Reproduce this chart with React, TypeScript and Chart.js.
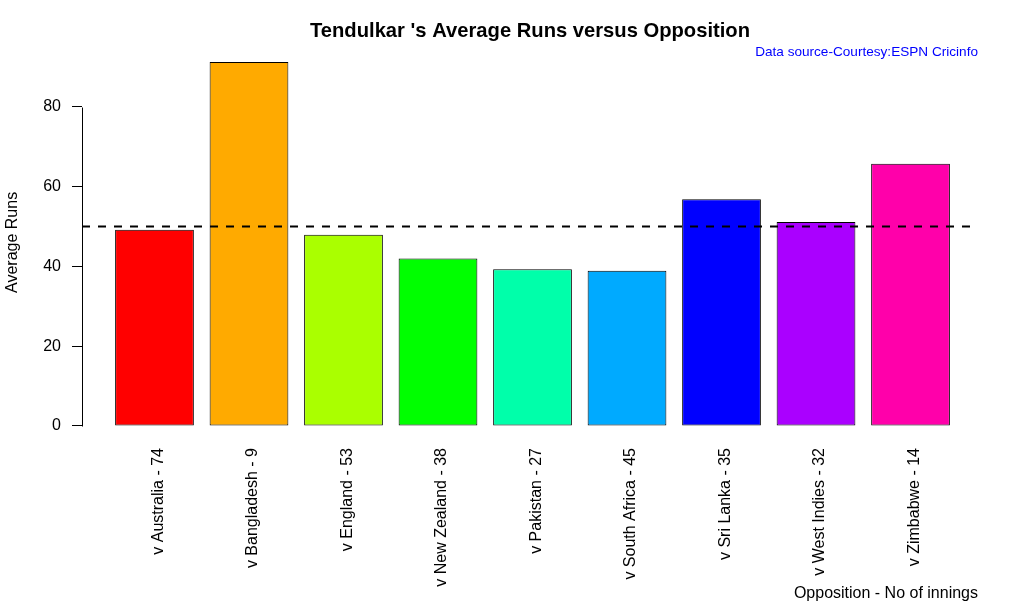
import React, { useEffect, useRef } from "react";
import { Chart, registerables } from "chart.js";

Chart.register(...registerables);

const categories = [
  "v Australia - 74",
  "v Bangladesh - 9",
  "v England - 53",
  "v New Zealand - 38",
  "v Pakistan - 27",
  "v South Africa - 45",
  "v Sri Lanka - 35",
  "v West Indies - 32",
  "v Zimbabwe - 14",
];
const averages = [49.2, 91.2, 47.9, 42.0, 39.3, 38.9, 56.8, 51.1, 65.7];
const barColors = [
  "#FF0000",
  "#FFAA00",
  "#AAFF00",
  "#00FF00",
  "#00FFAA",
  "#00AAFF",
  "#0000FF",
  "#AA00FF",
  "#FF00AA",
];
const yTicks = [0, 20, 40, 60, 80];
const referenceLine = 50;

const FONT = "'Liberation Sans', Arial, Helvetica, sans-serif";

const extrasPlugin = {
  id: "extras",
  afterDatasetsDraw(chart: any) {
    const { ctx, chartArea, scales } = chart;
    const y = scales.y;
    const py = Math.round(y.getPixelForValue(referenceLine)) + 0.5;
    ctx.save();
    ctx.strokeStyle = "#000";
    ctx.lineWidth = 2;
    ctx.setLineDash([8, 8]);
    ctx.beginPath();
    ctx.moveTo(chartArea.left, py);
    ctx.lineTo(chartArea.right, py);
    ctx.stroke();
    ctx.restore();
  },
  afterDraw(chart: any) {
    const { ctx, scales } = chart;
    const y = scales.y;
    const x = Math.round(y.right) + 0.5;
    ctx.save();
    ctx.strokeStyle = "#000";
    ctx.lineWidth = 1;
    ctx.beginPath();
    ctx.moveTo(x, Math.round(y.getPixelForValue(yTicks[0])) + 0.5);
    ctx.lineTo(x, Math.round(y.getPixelForValue(yTicks[yTicks.length - 1])) + 0.5);
    ctx.stroke();
    ctx.restore();
  },
};

export default function App() {
  const canvasRef = useRef<HTMLCanvasElement | null>(null);

  useEffect(() => {
    if (!canvasRef.current) return;
    Chart.defaults.color = "#000";
    Chart.defaults.font.family = FONT;
    const chart = new Chart(canvasRef.current, {
      type: "bar",
      data: {
        datasets: [
          {
            data: categories.map((_, i) => ({ x: i, y: averages[i] })),
            backgroundColor: barColors,
            borderColor: "#000",
            borderWidth: 1,
            borderSkipped: false,
            categoryPercentage: 1,
            barPercentage: 0.8333,
          },
        ],
      },
      options: {
        responsive: false,
        animation: false,
        layout: { padding: { left: 0, top: 0, bottom: 0, right: 46 } },
        plugins: {
          legend: { display: false },
          tooltip: { enabled: false },
          title: {
            display: true,
            text: "Tendulkar 's Average Runs versus Opposition",
            fullSize: false,
            color: "#000",
            font: { size: 20.2, weight: "bold", family: FONT, lineHeight: 1.2 },
            padding: { top: 19, bottom: 0 },
          },
          subtitle: {
            display: true,
            text: "Data source-Courtesy:ESPN Cricinfo",
            fullSize: false,
            align: "end",
            color: "#0000FF",
            font: { size: 13.6, family: FONT, lineHeight: 1.0 },
            padding: { top: 2, bottom: 0 },
          },
        },
        scales: {
          x: {
            type: "linear",
            offset: false,
            min: -0.767,
            max: 8.714,
            grid: { display: false, drawTicks: false },
            border: { display: false },
            afterBuildTicks: (scale: any) => {
              scale.ticks = categories.map((_, i) => ({ value: i }));
            },
            afterFit: (scale: any) => {
              scale.height = 188;
            },
            ticks: {
              autoSkip: false,
              minRotation: 90,
              maxRotation: 90,
              padding: 22,
              labelOffset: 4,
              color: "#000",
              font: { size: 16, family: FONT },
              callback: (value: any) => categories[value as number] ?? "",
            },
            title: {
              display: true,
              text: "Opposition - No of innings",
              align: "end",
              color: "#000",
              font: { size: 16, family: FONT, lineHeight: 1.2 },
              padding: { top: 0, bottom: 10.4 },
            },
          },
          y: {
            min: 0,
            max: 92,
            afterBuildTicks: (scale: any) => {
              scale.ticks = yTicks.map((v) => ({ value: v }));
            },
            afterFit: (scale: any) => {
              scale.width = 82;
            },
            grid: {
              display: true,
              drawOnChartArea: false,
              drawTicks: true,
              tickLength: 10,
              color: "#000",
              lineWidth: 1,
            },
            border: { display: false },
            ticks: {
              padding: 11,
              color: "#000",
              font: { size: 16, family: FONT },
            },
            title: {
              display: true,
              text: "Average Runs",
              color: "#000",
              font: { size: 16, family: FONT, lineHeight: 1.2 },
              padding: { top: 2.5, bottom: 0 },
            },
          },
        },
      },
      plugins: [extrasPlugin],
    } as any);
    return () => chart.destroy();
  }, []);

  return (
    <div style={{ position: "fixed", left: 0, top: 0, width: 1024, height: 614, background: "#fff" }}>
      <canvas ref={canvasRef} width={1024} height={614} />
    </div>
  );
}
